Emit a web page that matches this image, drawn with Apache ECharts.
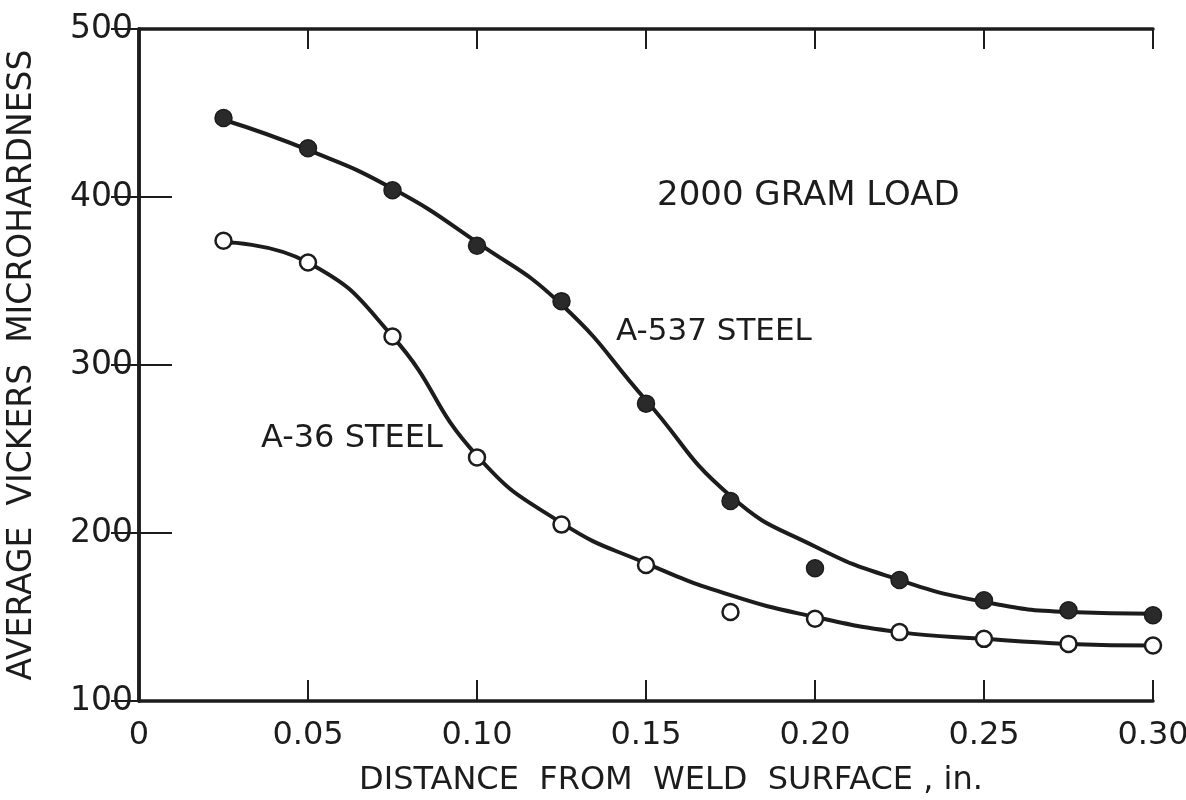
<!DOCTYPE html>
<html>
<head>
<meta charset="utf-8">
<script src="https://cdn.jsdelivr.net/npm/echarts@6/dist/echarts.min.js"></script>
<style>
  html, body { margin: 0; padding: 0; background: #fff; }
  #chart { width: 1186px; height: 800px; }
</style>
</head>
<body>
<div id="chart"></div>
<script>
var distance = [0.025, 0.05, 0.075, 0.10, 0.125, 0.15, 0.175, 0.20, 0.225, 0.25, 0.275, 0.30];

// measured points
var a537Points = [447, 429, 404, 371, 338, 277, 219, 179, 172, 160, 154, 151];
var a36Points = [374, 361, 317, 245, 205, 181, 153, 149, 141, 137, 134, 133];

// faired curves as drawn
var a537Curve = [446, 428, 405, 373, 336, 279, 222, 192, 172, 159, 153, 152];
var a36Curve = [373, 361, 317, 246, 206, 182, 163, 150, 141, 137, 134, 133];

var xTicks = ['0', '0.05', '0.10', '0.15', '0.20', '0.25', '0.30'];
var yTicks = [100, 200, 300, 400, 500];

var ink = '#1c1c1c';
var font = '"DejaVu Sans", sans-serif';

function pairs(xs, ys) {
  return xs.map(function (x, i) { return [x, ys[i]]; });
}

var chart = echarts.init(document.getElementById('chart'));

var axisLine = { show: true, lineStyle: { color: ink, width: 3.5 } };

var option = {
  backgroundColor: '#fff',
  animation: false,
  grid: { left: 139, right: 33, top: 29, bottom: 99, containLabel: false, outerBoundsMode: 'none' },
  xAxis: [{
    type: 'value',
    min: 0, max: 0.30, interval: 0.05,
    axisLine: axisLine,
    axisTick: { show: true, inside: true, length: 21, lineStyle: { color: ink, width: 2 } },
    splitLine: { show: false },
    axisLabel: {
      color: ink, fontFamily: font, fontSize: 32, margin: 19,
      formatter: function (v) {
        return xTicks[Math.round(v / 0.05)];
      }
    },
    name: 'DISTANCE  FROM  WELD  SURFACE , in.',
    nameLocation: 'middle',
    nameGap: 64,
    nameTextStyle: { color: ink, fontFamily: font, fontSize: 32, padding: [0, 0, 0, 50] }
  }, {
    type: 'value',
    position: 'top',
    min: 0, max: 0.30, interval: 0.05,
    axisLine: axisLine,
    axisTick: { show: true, inside: true, length: 20, lineStyle: { color: ink, width: 2 } },
    axisLabel: { show: false },
    splitLine: { show: false }
  }],
  yAxis: [{
    type: 'value',
    min: yTicks[0], max: yTicks[yTicks.length - 1], interval: 100,
    axisLine: axisLine,
    axisTick: { show: true, inside: true, length: 33, lineStyle: { color: ink, width: 2 } },
    splitLine: { show: false },
    axisLabel: { color: ink, fontFamily: font, fontSize: 33, margin: 6 },
    name: 'AVERAGE  VICKERS  MICROHARDNESS',
    nameLocation: 'middle',
    nameGap: 100,
    nameRotate: 90,
    nameTextStyle: { color: ink, fontFamily: font, fontSize: 33 }
  }, {
    type: 'value',
    position: 'right',
    min: yTicks[0], max: yTicks[yTicks.length - 1], interval: 100,
    axisLine: axisLine,
    axisTick: { show: true, inside: true, length: 28, lineStyle: { color: ink, width: 2 } },
    axisLabel: { show: false },
    splitLine: { show: false }
  }],
  graphic: [
    { type: 'text', left: 657, top: 179, style: { text: '2000 GRAM LOAD', fill: ink, font: '34px "DejaVu Sans", sans-serif' } },
    { type: 'text', left: 616, top: 316, style: { text: 'A-537 STEEL', fill: ink, font: '31px "DejaVu Sans", sans-serif' } },
    { type: 'text', left: 261, top: 423, style: { text: 'A-36 STEEL', fill: ink, font: '32px "DejaVu Sans", sans-serif' } }
  ],
  series: [{
    name: 'A-537 curve',
    type: 'line',
    smooth: 0.5,
    showSymbol: false,
    data: pairs(distance, a537Curve),
    lineStyle: { color: ink, width: 4 },
    z: 2
  }, {
    name: 'A-36 curve',
    type: 'line',
    smooth: 0.5,
    showSymbol: false,
    data: pairs(distance, a36Curve),
    lineStyle: { color: ink, width: 4 },
    z: 2
  }, {
    name: 'A-537 STEEL',
    type: 'scatter',
    symbol: 'circle',
    symbolSize: 17,
    data: pairs(distance, a537Points),
    itemStyle: { color: '#2a2a2a', borderColor: ink, borderWidth: 1.5, opacity: 1 },
    z: 3
  }, {
    name: 'A-36 STEEL',
    type: 'scatter',
    symbol: 'circle',
    symbolSize: 16,
    data: pairs(distance, a36Points),
    itemStyle: { color: '#fff', borderColor: ink, borderWidth: 2.5, opacity: 1 },
    z: 3
  }]
};

chart.setOption(option);
</script>
</body>
</html>
